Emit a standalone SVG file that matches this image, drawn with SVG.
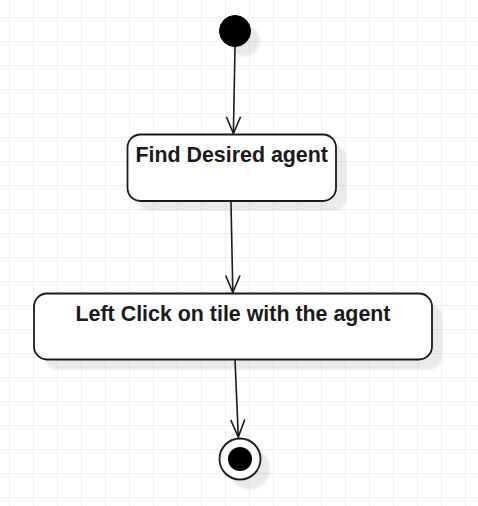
<svg xmlns="http://www.w3.org/2000/svg" width="478" height="506" viewBox="0 0 478 506">
<style>
.node{fill:#ffffff;stroke:#1a1a1a;stroke-width:1.8}
.shadow{fill:#000000;opacity:0.08}
.lbl{font-family:"Liberation Sans",Arial,sans-serif;font-weight:bold;font-size:21.4px;fill:#1a1a1a;text-anchor:middle}
.edge{fill:none;stroke:#1a1a1a;stroke-width:1.6}
</style>
<defs>
<pattern id="grid" x="9" y="17" width="24" height="24" patternUnits="userSpaceOnUse">
<path d="M0 0H24M0 0V24" fill="none" stroke="#ececec" stroke-width="1.6"/>
</pattern>
<filter id="blur" x="-20%" y="-20%" width="140%" height="140%"><feGaussianBlur stdDeviation="1.2"/></filter>
</defs>
<rect width="478" height="506" fill="#ffffff"/>
<rect width="478" height="506" fill="url(#grid)"/>
<g id="start">
<circle class="shadow" cx="245" cy="41" r="15.5" filter="url(#blur)"/>
<circle cx="235" cy="31" r="15.5" fill="#000000" stroke="#000000" stroke-width="1"/>
</g>
<g id="find">
<rect class="shadow" x="137.5" y="144.5" width="208.5" height="66.5" rx="13" filter="url(#blur)"/>
<rect class="node" x="127.5" y="134.5" width="208.5" height="66.5" rx="13"/>
<text class="lbl" x="231.7" y="162">Find Desired agent</text>
</g>
<g id="click">
<rect class="shadow" x="44" y="303.5" width="398" height="66" rx="13" filter="url(#blur)"/>
<rect class="node" x="34" y="293.5" width="398" height="66" rx="13"/>
<text class="lbl" x="233" y="321">Left Click on tile with the agent</text>
</g>
<g id="end">
<circle class="shadow" cx="250" cy="469" r="20.5" filter="url(#blur)"/>
<circle cx="240" cy="459" r="20.5" fill="#ffffff" stroke="#1a1a1a" stroke-width="1.8"/>
<circle cx="240" cy="459" r="12" fill="#000000"/>
</g>
<g id="connectors">
<path class="edge" d="M235 47L233.4 133.5"/>
<path class="edge" d="M226.3 116.8L233.4 133.5L240.6 116.8"/>
<path class="edge" d="M231 201.5L232.8 292.5"/>
<path class="edge" d="M225.7 275.5L232.8 292.5L240 275.5"/>
<path class="edge" d="M235 359.5L238.3 437"/>
<path class="edge" d="M230.8 420L238.3 437L244.8 419.5"/>
</g>
</svg>
